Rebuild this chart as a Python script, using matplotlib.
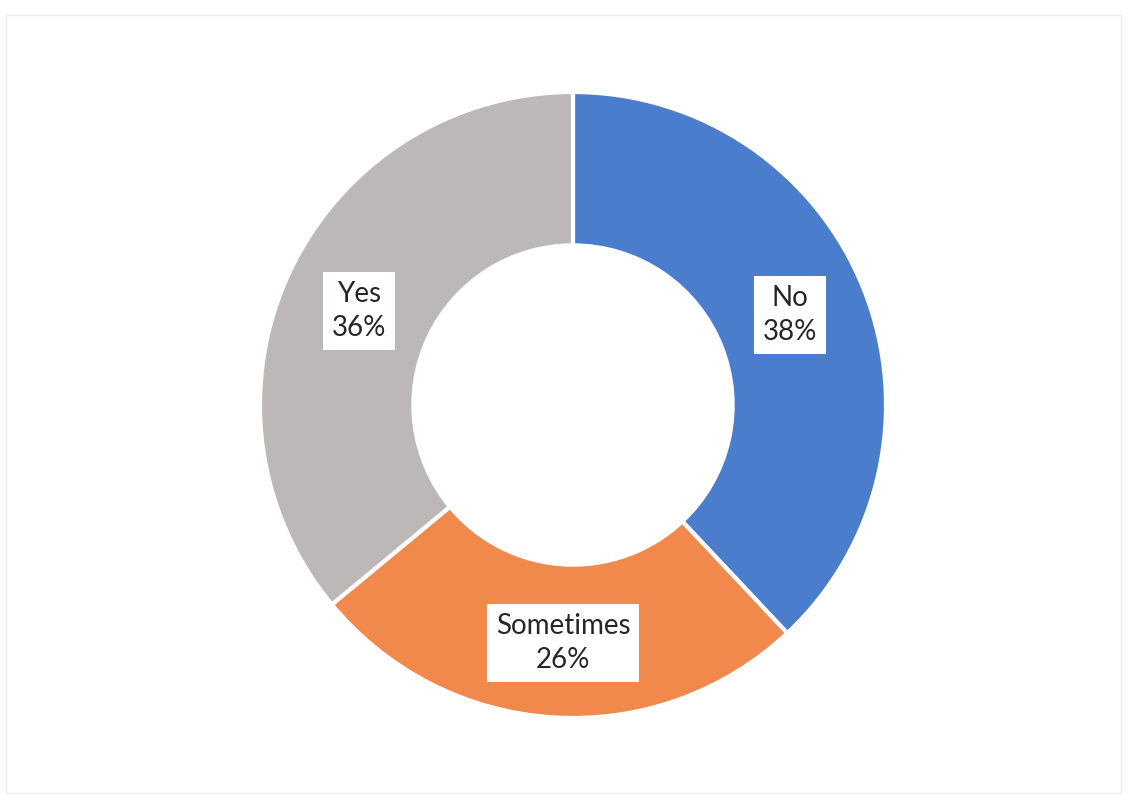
import matplotlib
matplotlib.use("Agg")
import matplotlib.pyplot as plt
from matplotlib.patches import Rectangle

categories = ["No", "Sometimes", "Yes"]
shares = [38, 26, 36]
colors = ["#4a7ecd", "#f0894b", "#bdb8b8"]

W, H = 1129, 800
fig = plt.figure(figsize=(W / 100, H / 100), dpi=100)
ax = fig.add_axes([0, 0, 1, 1])

# faint outer frame of the chart area
ax.add_patch(Rectangle((6, 7), 1115, 778, fill=False, edgecolor="#eeeeee", linewidth=1))

cx, cy, r = 573, 395, 313
ax.pie(
    shares,
    colors=colors,
    startangle=90,
    counterclock=False,
    center=(cx, cy),
    radius=r,
    wedgeprops=dict(width=r * 0.49, edgecolor="white", linewidth=3),
    frame=True,
)
ax.set_xlim(0, W)
ax.set_ylim(0, H)
ax.set_aspect("equal")
ax.axis("off")

label_pos = [(790, H - 315), (563, H - 643), (359, H - 311)]
for cat, val, (x, y) in zip(categories, shares, label_pos):
    ax.text(
        x, y, f"{cat}\n{val}%",
        ha="center", va="center", fontsize=20, family="Lato",
        color="#262626", linespacing=1.4,
        bbox=dict(boxstyle="square,pad=0.3", facecolor="white", edgecolor="none"),
    )

fig.savefig("out.png", dpi=100)
